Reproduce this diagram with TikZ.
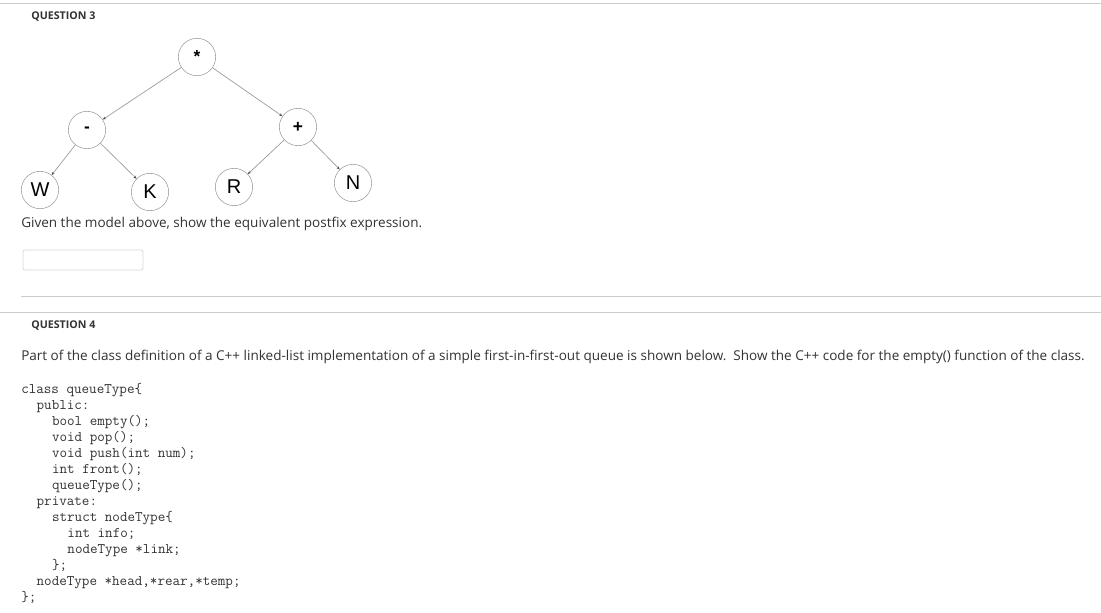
\documentclass[tikz,border=0pt]{standalone}
\usepackage{fontspec}
\setmainfont{Open Sans}
\newfontfamily\arialfont{Liberation Sans}
\usetikzlibrary{arrows.meta}
\definecolor{txtgray}{HTML}{333333}
\definecolor{rulegray}{HTML}{CCCCCC}
\definecolor{edgegray}{HTML}{999999}
\tikzset{
	treenode/.style={circle, draw=edgegray, fill=white, minimum size=28pt, inner sep=0pt, font=\arialfont\fontsize{15}{17}\selectfont},
	opnode/.style={treenode, font=\arialfont\bfseries\fontsize{13}{15}\selectfont},
	treeedge/.style={draw=edgegray, line width=0.5pt, -{Stealth[length=2.5pt,width=2pt,color=black!70]}},
	heading/.style={anchor=west, inner sep=0pt, text=txtgray, font=\bfseries\fontsize{8}{10}\selectfont},
	bodytext/.style={anchor=west, inner sep=0pt, text=txtgray, font=\fontsize{10.15}{12}\selectfont},
}
\newcommand{\ind}[1]{\hspace*{#1em}}

\begin{document}
\begin{tikzpicture}[x=0.75pt, y=-0.75pt]
		%%%%% START %%%%%
		\useasboundingbox[fill=white] (0, 0) rectangle (1101, 613);
		
		% separators
		\draw[rulegray, line width=0.75pt] (0, 4) -- (1101, 4);
		\draw[rulegray, line width=0.75pt] (21, 297) -- (1101, 297);
		\draw[rulegray, line width=0.75pt] (0, 313) -- (1101, 313);
		
		% question 3
		\node[heading] (q3) at (31, 17) {QUESTION 3};
		
		\node[opnode] (times) at (197, 57) {*};
		\node[opnode] (minus) at (87, 130) {-};
		\node[opnode] (plus) at (298, 127) {+};
		\node[treenode] (w) at (40, 190) {W};
		\node[treenode] (k) at (150, 192) {K};
		\node[treenode] (r) at (234, 187) {R};
		\node[treenode] (n) at (353, 183) {N};
		
		\draw[treeedge] (times) -- (minus);
		\draw[treeedge] (times) -- (plus);
		\draw[treeedge] (minus) -- (w);
		\draw[treeedge] (minus) -- (k);
		\draw[treeedge] (plus) -- (r);
		\draw[treeedge] (plus) -- (n);
		
		\node[bodytext] (ask3) at (21, 223.5) {Given the model above, show the equivalent postfix expression.};
		\draw[draw=black!15, line width=0.6pt, rounded corners=1.5pt] (23, 250) rectangle (143, 270);
		
		% question 4
		\node[heading] (q4) at (31, 325.5) {QUESTION 4};
		\node[bodytext] (ask4) at (21, 357) {Part of the class definition of a C++ linked-list implementation of a simple first-in-first-out queue is shown below.\ \ Show the C++ code for the empty() function of the class.};
		
		\node[anchor=north west, inner sep=0pt, align=left, text=txtgray, font=\ttfamily\fontsize{11}{12}\selectfont] (code) at (21, 383) {%
			class queueType\{\\
			\ind{1.05}public:\\
			\ind{2.1}bool empty();\\
			\ind{2.1}void pop();\\
			\ind{2.1}void push(int num);\\
			\ind{2.1}int front();\\
			\ind{2.1}queueType();\\
			\ind{1.05}private:\\
			\ind{2.1}struct nodeType\{\\
			\ind{3.15}int info;\\
			\ind{3.15}nodeType *link;\\
			\ind{2.1}\};\\
			\ind{1.05}nodeType *head,*rear,*temp;\\
			\};};
		
		%%%%% END %%%%%
	\end{tikzpicture}
\end{document}
